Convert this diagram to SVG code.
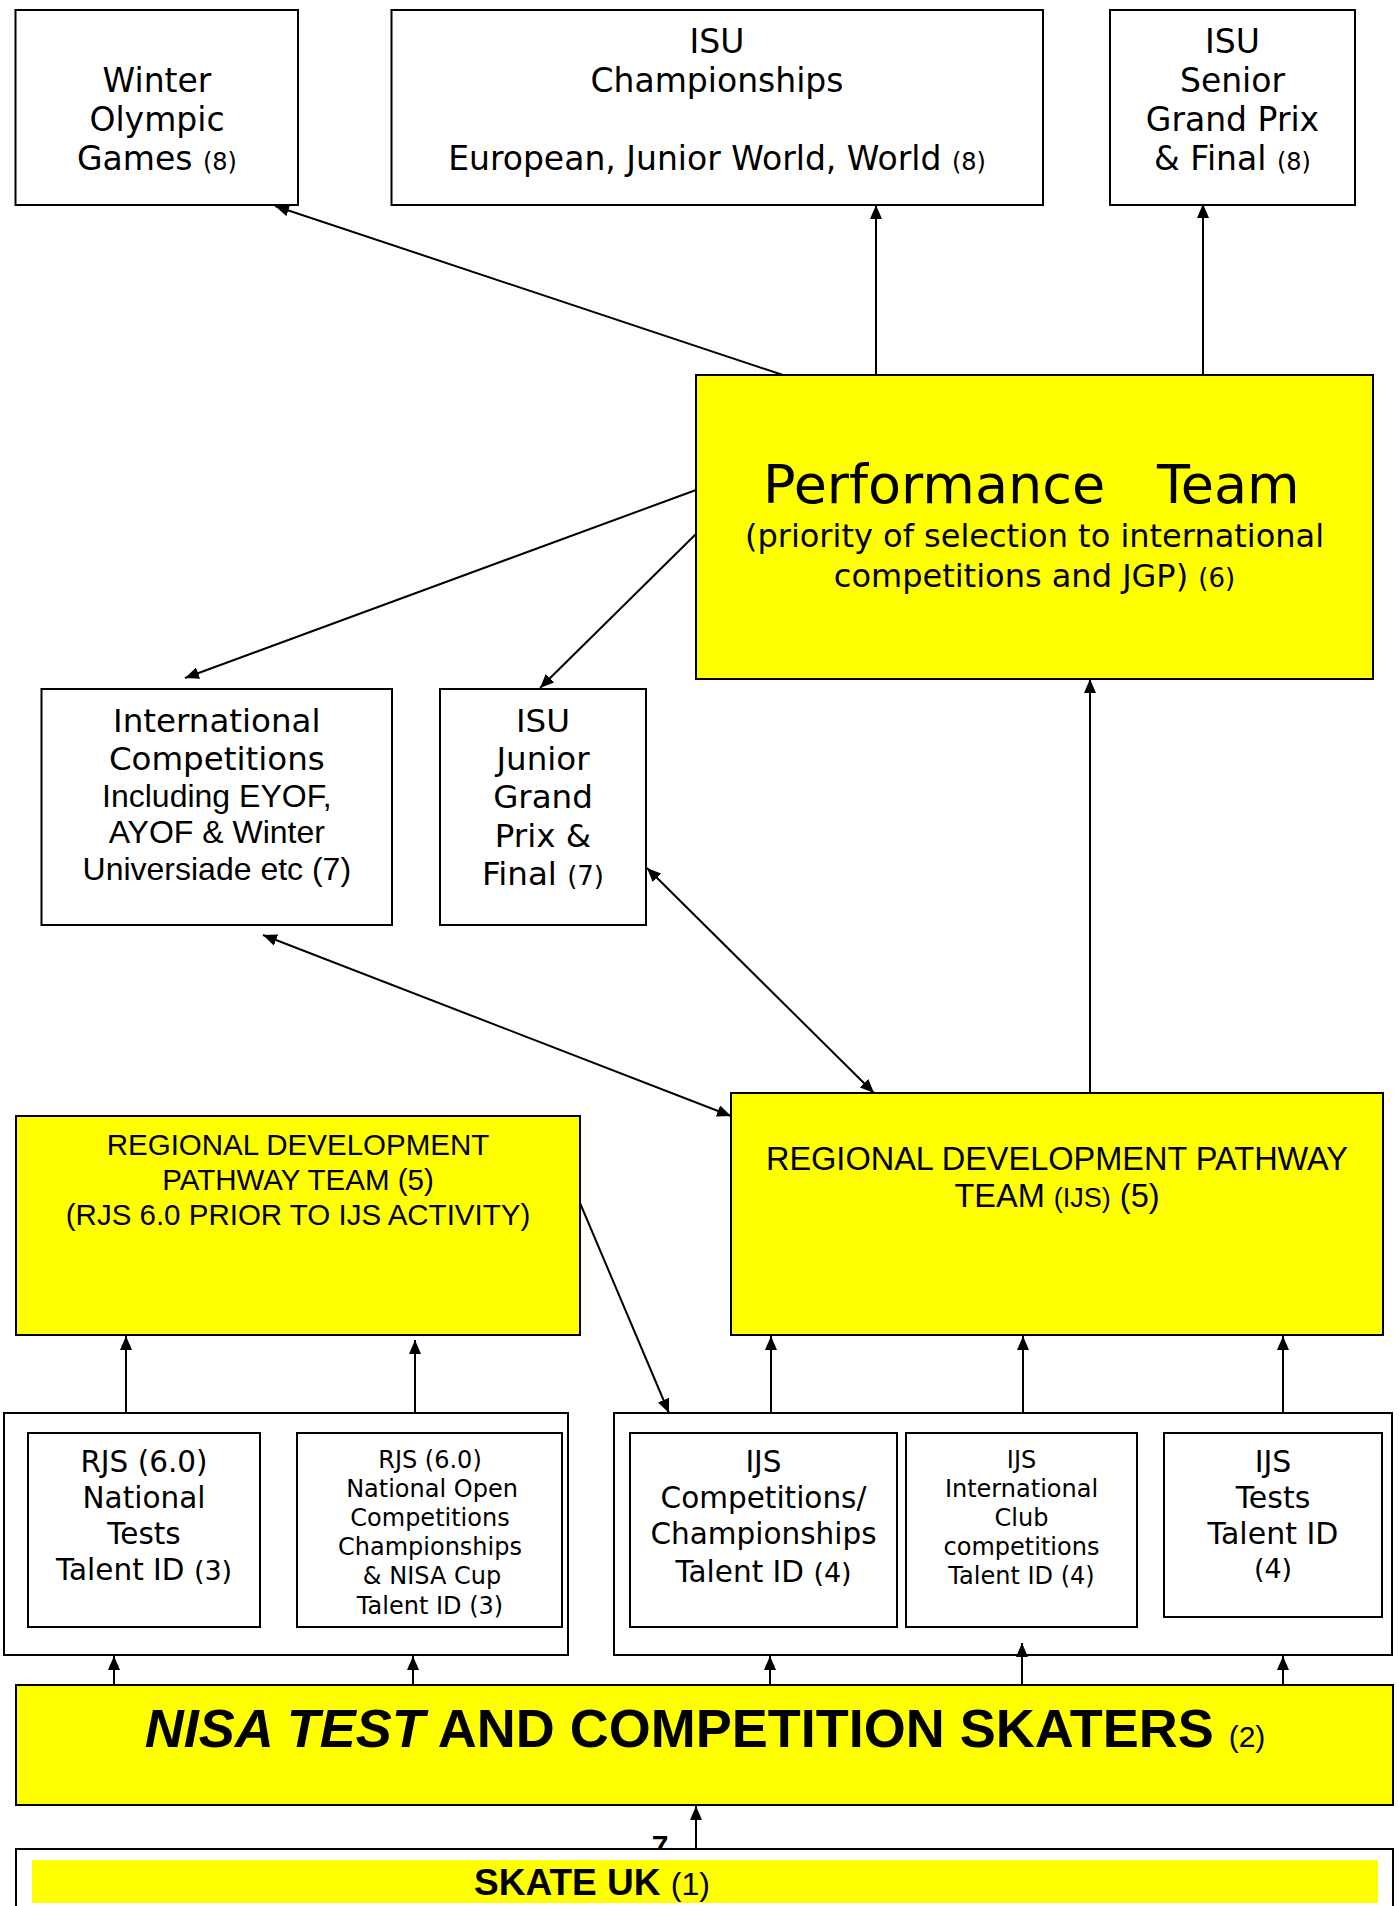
<svg xmlns="http://www.w3.org/2000/svg" width="1399" height="1906" viewBox="0 0 1399 1906">
<style>
.box{fill:#fff;stroke:#000;stroke-width:2}
.yb{fill:#ffff00;stroke:#000;stroke-width:2}
.v{font-family:"DejaVu Sans",Verdana,sans-serif;fill:#000;text-anchor:middle}
.a{font-family:"Liberation Sans",Arial,sans-serif;fill:#000;text-anchor:middle}
.c{stroke:#000;stroke-width:2;fill:none}
.s{font-size:24px}
</style>
<defs>
<marker id="ah" viewBox="0 0 14 12" refX="14" refY="6" markerWidth="14" markerHeight="12" orient="auto-start-reverse" markerUnits="userSpaceOnUse">
<path d="M0,0 L14,6 L0,12 z" fill="#000"/>
</marker>
</defs>
<rect width="1399" height="1906" fill="#fff"/>

<g id="winter">
<rect class="box" x="15.5" y="10" width="282.5" height="195"/>
<text class="v" font-size="33"><tspan x="157" y="92">Winter</tspan><tspan x="157" y="131">Olympic</tspan><tspan x="157" y="170">Games <tspan class="s">(8)</tspan></tspan></text>
</g>

<g id="isu-champs">
<rect class="box" x="391.5" y="10" width="651.5" height="195"/>
<text class="v" font-size="33"><tspan x="717" y="53">ISU</tspan><tspan x="717" y="92">Championships</tspan><tspan x="717" y="170">European, Junior World, World <tspan class="s">(8)</tspan></tspan></text>
</g>

<g id="isu-senior">
<rect class="box" x="1110" y="10" width="245" height="195"/>
<text class="v" font-size="33"><tspan x="1232.5" y="53">ISU</tspan><tspan x="1232.5" y="92">Senior</tspan><tspan x="1232.5" y="131">Grand Prix</tspan><tspan x="1232.5" y="170">&amp; Final <tspan class="s">(8)</tspan></tspan></text>
</g>

<g id="performance">
<rect class="yb" x="696" y="375" width="677" height="304"/>
<text class="v" font-size="54" style="text-anchor:start"><tspan x="763" y="503">Performance</tspan><tspan x="1157" y="503">Team</tspan></text>
<text class="v" font-size="32"><tspan x="1034.5" y="547">(priority of selection to international</tspan><tspan x="1034.5" y="587">competitions and JGP) <tspan font-size="26">(6)</tspan></tspan></text>
</g>

<g id="international">
<rect class="box" x="41.5" y="689" width="350.5" height="236"/>
<text class="v" font-size="32.5"><tspan x="216.8" y="732">International</tspan><tspan x="216.8" y="770">Competitions</tspan></text>
<text class="a" font-size="32"><tspan x="216.8" y="807">Including EYOF,</tspan><tspan x="216.8" y="843">AYOF &amp; Winter</tspan><tspan x="216.8" y="880">Universiade etc (7)</tspan></text>
</g>

<g id="isu-junior">
<rect class="box" x="440" y="689" width="206" height="236"/>
<text class="v" font-size="32.5"><tspan x="543" y="732">ISU</tspan><tspan x="543" y="770">Junior</tspan><tspan x="543" y="808">Grand</tspan><tspan x="543" y="847">Prix &amp;</tspan><tspan x="543" y="885">Final <tspan font-size="26">(7)</tspan></tspan></text>
</g>

<g id="rdp-rjs">
<rect class="yb" x="16" y="1116" width="564" height="219"/>
<text class="a" font-size="29.5"><tspan x="298" y="1155">REGIONAL DEVELOPMENT</tspan><tspan x="298" y="1190">PATHWAY TEAM (5)</tspan><tspan x="298" y="1225">(RJS 6.0 PRIOR TO IJS ACTIVITY)</tspan></text>
</g>

<g id="rdp-ijs">
<rect class="yb" x="731" y="1093" width="652" height="242"/>
<text class="a" font-size="32.5"><tspan x="1057" y="1170">REGIONAL DEVELOPMENT PATHWAY</tspan><tspan x="1057" y="1207">TEAM <tspan font-size="27">(IJS)</tspan> (5)</tspan></text>
</g>

<g id="rjs-group">
<rect class="box" x="4" y="1413" width="564" height="242"/>
</g>
<g id="ijs-group">
<rect class="box" x="614" y="1413" width="778" height="242"/>
</g>

<g id="rjs-tests">
<rect class="box" x="28" y="1433" width="232" height="194"/>
<text class="v" font-size="29.5"><tspan x="144" y="1472">RJS (6.0)</tspan><tspan x="144" y="1508">National</tspan><tspan x="144" y="1544">Tests</tspan><tspan x="144" y="1580">Talent ID <tspan font-size="27">(3)</tspan></tspan></text>
</g>

<g id="rjs-comps">
<rect class="box" x="297" y="1433" width="265" height="194"/>
<text class="v" font-size="24"><tspan x="430" y="1468">RJS (6.0)</tspan><tspan x="432" y="1497">National Open</tspan><tspan x="430" y="1526">Competitions</tspan><tspan x="430" y="1555">Championships</tspan><tspan x="432" y="1584">&amp; NISA Cup</tspan><tspan x="430" y="1614">Talent ID (3)</tspan></text>
</g>

<g id="ijs-comps">
<rect class="box" x="630" y="1433" width="267" height="194"/>
<text class="v" font-size="29.5"><tspan x="763.5" y="1472">IJS</tspan><tspan x="763.5" y="1508">Competitions/</tspan><tspan x="763.5" y="1544">Championships</tspan><tspan x="763.5" y="1582">Talent ID <tspan font-size="27">(4)</tspan></tspan></text>
</g>

<g id="ijs-club">
<rect class="box" x="906" y="1433" width="231" height="194"/>
<text class="v" font-size="24"><tspan x="1021.5" y="1468">IJS</tspan><tspan x="1021.5" y="1497">International</tspan><tspan x="1021.5" y="1526">Club</tspan><tspan x="1021.5" y="1555">competitions</tspan><tspan x="1021.5" y="1584">Talent ID (4)</tspan></text>
</g>

<g id="ijs-tests">
<rect class="box" x="1164" y="1433" width="218" height="184"/>
<text class="v" font-size="30"><tspan x="1273" y="1472">IJS</tspan><tspan x="1273" y="1508">Tests</tspan><tspan x="1273" y="1544">Talent ID</tspan><tspan x="1273" y="1578" font-size="27">(4)</tspan></text>
</g>

<g id="nisa">
<rect class="yb" x="16" y="1685" width="1377" height="120"/>
<text class="a" x="705" y="1747" font-size="54" font-weight="bold"><tspan font-style="italic">NISA TEST</tspan> AND COMPETITION SKATERS <tspan font-size="30" font-weight="normal">(2)</tspan></text>
</g>

<g id="skate-uk">
<text class="a" x="660" y="1856" font-size="30" font-weight="bold">7</text>
<rect class="box" x="16" y="1849" width="1377" height="80"/>
<rect x="32" y="1860" width="1346" height="43" fill="#ffff00"/>
<text class="a" x="592" y="1895" font-size="37" font-weight="bold">SKATE UK <tspan font-size="32" font-weight="normal">(1)</tspan></text>
</g>

<g id="connectors">
<line class="c" x1="783" y1="375" x2="275" y2="206" marker-end="url(#ah)"/>
<line class="c" x1="876" y1="375" x2="876" y2="205" marker-end="url(#ah)"/>
<line class="c" x1="1203" y1="375" x2="1203" y2="204" marker-end="url(#ah)"/>
<line class="c" x1="696" y1="490" x2="185" y2="678" marker-end="url(#ah)"/>
<line class="c" x1="696" y1="534" x2="540" y2="688" marker-end="url(#ah)"/>
<line class="c" x1="263" y1="935" x2="731" y2="1116" marker-start="url(#ah)" marker-end="url(#ah)"/>
<line class="c" x1="647" y1="868" x2="874" y2="1093" marker-start="url(#ah)" marker-end="url(#ah)"/>
<line class="c" x1="1090" y1="1093" x2="1090" y2="679" marker-end="url(#ah)"/>
<line class="c" x1="580" y1="1203" x2="669" y2="1413" marker-end="url(#ah)"/>
<line class="c" x1="126" y1="1413" x2="126" y2="1336" marker-end="url(#ah)"/>
<line class="c" x1="415" y1="1413" x2="415" y2="1340" marker-end="url(#ah)"/>
<line class="c" x1="771" y1="1413" x2="771" y2="1336" marker-end="url(#ah)"/>
<line class="c" x1="1023" y1="1413" x2="1023" y2="1336" marker-end="url(#ah)"/>
<line class="c" x1="1283" y1="1413" x2="1283" y2="1336" marker-end="url(#ah)"/>
<line class="c" x1="114" y1="1685" x2="114" y2="1656" marker-end="url(#ah)"/>
<line class="c" x1="413" y1="1685" x2="413" y2="1656" marker-end="url(#ah)"/>
<line class="c" x1="770" y1="1685" x2="770" y2="1656" marker-end="url(#ah)"/>
<line class="c" x1="1022" y1="1685" x2="1022" y2="1643" marker-end="url(#ah)"/>
<line class="c" x1="1283" y1="1685" x2="1283" y2="1656" marker-end="url(#ah)"/>
<line class="c" x1="696" y1="1849" x2="696" y2="1806" marker-end="url(#ah)"/>
</g>
</svg>
